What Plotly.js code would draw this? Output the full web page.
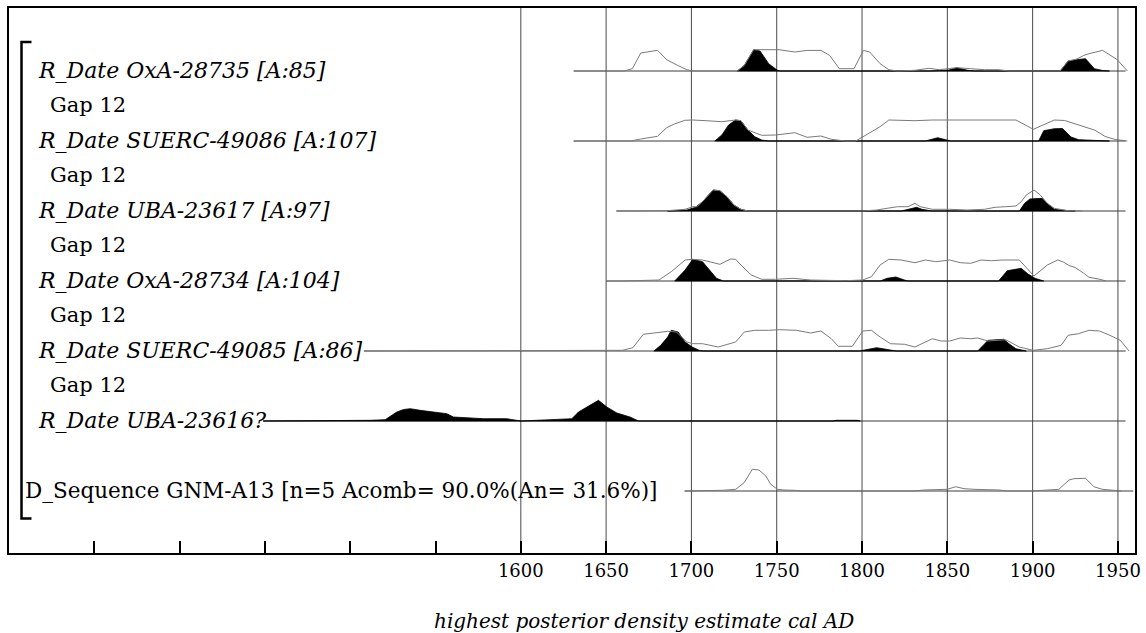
<!DOCTYPE html>
<html>
<head>
<meta charset="utf-8">
<script src="https://cdn.plot.ly/plotly-3.0.1.min.js"></script>
<style>html,body{margin:0;padding:0;background:#fff;}#chart{width:1146px;height:633px;}</style>
</head>
<body>
<div id="chart"></div>
<script>
// ---- labels (top to bottom, one per text line) ----
const rowLabels = [
  "R_Date OxA-28735 [A:85]", "Gap 12",
  "R_Date SUERC-49086 [A:107]", "Gap 12",
  "R_Date UBA-23617 [A:97]", "Gap 12",
  "R_Date OxA-28734 [A:104]", "Gap 12",
  "R_Date SUERC-49085 [A:86]", "Gap 12",
  "R_Date UBA-23616?", "",
  "D_Sequence GNM-A13 [n=5 Acomb= 90.0%(An= 31.6%)]"
];
const xTitle = "highest posterior density estimate cal AD";
const tickYears = [1350,1400,1450,1500,1550,1600,1650,1700,1750,1800,1850,1900,1950];
const tickLabels = ["","","","","","1600","1650","1700","1750","1800","1850","1900","1950"];
const gridYears = [1600,1650,1700,1750,1800,1850,1900,1950];

// baseline extents (cal AD) of each distribution row
const rowStart = [1631, 1631, 1656, 1650, 1508, 1449, 1696];
const rowEnd   = [1954.5, 1954.5, 1954.5, 1954.5, 1954.5, 1954.5, 1959];

// ---- Row 1: OxA-28735 ----
const r1LikeYr = [1631,1653.7,1660.6,1665.4,1670.3,1680.1,1685.5,1691.8,1697.3,1700.8,1726.9,1731,1736.5,1751.4,1760.6,1767.8,1775.9,1781,1786.7,1795.3,1800.8,1804.5,1810.6,1815.7,1820.8,1831,1839.2,1845.3,1855.5,1863.7,1871.8,1880,1886,1916,1920.8,1926,1930,1933,1941,1949.5,1955.5];
const r1LikeD  = [0,0,0,2.3,18,20.7,11.3,5.7,1.3,0,0,5.6,21.3,21.3,19,20.6,20.6,15.6,2.3,2.3,20.6,19,7.3,1.3,0,0.7,2.7,1.3,3.3,2.3,1.3,1.3,0,0,10,12,15.6,17.3,20.6,11.5,0];
const r1PostYr = [1726.9,1731,1736.5,1740.2,1745.3,1750.4,1752,1840,1851,1855.5,1862,1866,1916.3,1920.8,1926.5,1931,1936.2,1941,1945];
const r1PostD  = [0,5.6,21.3,20,7.3,0.7,0,0,1,3.3,0.7,0,0,10,11.5,12.3,2.3,0.5,0];

// ---- Row 2: SUERC-49086 ----
const r2LikeYr = [1631,1664.5,1670.3,1680.1,1685.5,1690,1696.1,1700.8,1708.6,1717.8,1725.9,1729,1733.1,1741.2,1749.4,1760.6,1767.8,1775.9,1782,1790.2,1796.3,1802.4,1810.6,1815.7,1831,1841.2,1851.4,1861.6,1871.8,1890.2,1900.4,1906.5,1912.7,1918.8,1925,1929.5,1936.5,1942.5,1948.5,1955.5];
const r2LikeD  = [0,0,2,4.7,13.3,17,20.7,21,20.3,19.3,21,20.3,11,5.7,6,8.3,3.7,5,1.7,0,0,6,14.3,21,20.3,21,21,20.3,21,21,11.7,16.7,21,20.5,17,14.2,10.8,4.5,1.5,0];
const r2PostYr = [1713.7,1717.8,1721.8,1725.9,1729,1733.1,1737.1,1741.2,1745.3,1837.1,1844.3,1849.4,1852,1903.5,1906.5,1912.7,1917.5,1922.5,1927,1935,1945];
const r2PostD  = [0,6,16,21,20.3,11,4.3,1,0,0,3.3,1,0,0,10.3,12.3,12.5,4,1.3,0.7,0];

// ---- Row 3: UBA-23617 ----
const r3LikeYr = [1656,1671.8,1686.1,1696.3,1700.8,1703.5,1706.5,1712.7,1716.7,1720.8,1724.9,1729,1733.1,1800,1808.6,1814.7,1820.8,1826.9,1831,1834.1,1841.2,1851.4,1861.6,1871.8,1878,1884.1,1890.2,1893.3,1896.3,1900.8,1904.5,1908.6,1912.7,1920.8,1929];
const r3LikeD  = [0,0,0.3,1.7,4.3,4.3,9.3,21,20.3,14.3,6,1.7,0,0,1,2.7,4.3,4.3,7.7,4.3,1.7,1.7,1,1.7,3.7,4.3,5,9.3,16,21,16,7.7,2.7,0.3,0];
const r3PostYr = [1686,1697.3,1702.4,1706.5,1712.7,1716.7,1720.8,1724.9,1729,1733.1,1822.9,1826.9,1832,1835.1,1841.2,1892.2,1895.3,1898.4,1905.5,1909.6,1912.7,1920.8,1925];
const r3PostD  = [0,1,3.7,9.3,21,20.3,14.3,6,1.7,0,0,1.7,3.7,1.7,0,0,7.7,12,12.7,6,1.7,0.3,0];

// ---- Row 4: OxA-28734 ----
const r4LikeYr = [1650,1659.6,1681,1684.1,1688.2,1696.3,1700.8,1706.5,1716.7,1722.9,1725.9,1729,1735.1,1741.2,1749.4,1759.6,1769.8,1790.2,1800.4,1805.5,1810.6,1815.7,1822.9,1831,1837.1,1843.3,1851.4,1857.6,1863.7,1869.8,1875.9,1882,1892.2,1900.8,1908.6,1914.7,1918,1921.3,1925,1930,1933,1939.5,1943];
const r4LikeD  = [0,0,1,4.3,9.3,21,21.7,21,16.7,22,21.7,16,6,1.7,1.7,2.7,1,0.3,1,4.3,16,21.7,21,18.3,21,19.3,21,18.3,17.7,21,20.3,21,21,5,16,21,19,15.5,13.5,7.7,3.7,1.7,0];
const r4PostYr = [1690.2,1696.3,1700.8,1706.5,1710.6,1714.7,1718.8,1810.6,1814.7,1819.8,1824.9,1827,1880,1885.1,1893.3,1897.3,1901.4,1904.5,1906.5];
const r4PostD  = [0,11,21.7,19.3,11,2.7,0,0,2.7,4,1,0,0,10.3,12.7,7,2.7,1,0];

// ---- Row 5: SUERC-49085 ----
const r5LikeYr = [1508,1647.3,1659.6,1665.7,1671.8,1678,1686.1,1691.2,1697.3,1700.8,1706.5,1715.7,1725.9,1731,1737.1,1745.3,1751.4,1761.6,1769.8,1775.9,1782,1786.1,1794.3,1800.4,1805.5,1810.6,1816.7,1824.9,1831,1841.2,1846.3,1851.4,1857.6,1863.7,1867.8,1873.9,1884.1,1892.2,1900.4,1908.6,1916.7,1920.8,1926.9,1933.1,1939.2,1945.3,1951.4,1956.5];
const r5LikeD  = [0,0,0.7,3.3,16.7,18,19.7,19,9,7.3,7.3,4,9,19,20.7,20.7,21.3,20.7,18,20,12.3,4.7,4.7,20,20.7,14,7.3,6.7,4,12.3,10,10,13,12.3,13,10,11.3,4,0.7,2.3,5.7,15.7,17.3,20.7,20,15.7,10.7,0];
const r5PostYr = [1678,1682,1686.1,1688.2,1692.2,1696.3,1700.4,1704.5,1707,1798.4,1808.6,1816.7,1820,1867.8,1871.8,1873.9,1883.1,1886.1,1890.2,1896.3];
const r5PostD  = [0,5.7,14,20.7,19,9,4,0.7,0,0,3.3,0.7,0,0,7.3,10.7,11.7,7.3,2.3,0];

// ---- Row 6: UBA-23616? (posterior only) ----
const r6PostYr = [1449,1496,1504,1511.7,1520.5,1527.3,1531.3,1535.2,1541,1550.8,1556.6,1560.5,1566.4,1578,1591.8,1600,1617.2,1629.9,1633.8,1638.7,1645.5,1650.4,1656.3,1664,1669,1783,1785,1797,1799];
const r6PostD  = [0,0.3,0.5,0.7,1.3,9,11.5,12.3,10.7,9,7.3,4,3.3,2.3,2.3,0,1.3,2.3,9,14,20.7,14,8,4,0,0,0.7,0.7,0];

// ---- Row 7: D_Sequence GNM-A13 (outline only) ----
const r7LikeYr = [1696,1718.2,1726,1730.9,1735.7,1739.6,1743.6,1746.5,1750.4,1754.3,1760.2,1765,1830,1836.3,1850,1854.9,1859.8,1865.6,1880.3,1885,1900,1907.6,1915.4,1921.3,1924.2,1931,1935.9,1940.8,1947.7,1952];
const r7LikeD  = [0,0.7,1.7,8.3,21.7,21,15,6.7,1.7,1,0.7,0,0,1,1.7,4.3,2.3,1.7,1,0,0,1,1.7,11,12.3,12.7,4.3,1.7,0.7,0];

// line index (text line) of each distribution row
const rowLine = [0, 2, 4, 6, 8, 10, 12];
const likes = [[r1LikeYr,r1LikeD],[r2LikeYr,r2LikeD],[r3LikeYr,r3LikeD],[r4LikeYr,r4LikeD],[r5LikeYr,r5LikeD],null,[r7LikeYr,r7LikeD]];
const posts = [[r1PostYr,r1PostD],[r2PostYr,r2PostD],[r3PostYr,r3PostD],[r4PostYr,r4PostD],[r5PostYr,r5PostD],[r6PostYr,r6PostD],null];

// ---- geometry helpers ----
const W = 1146, H = 633;
const M = {l: 9, r: 11, t: 8, b: 80};
const X0 = 1300, X1 = 1960;
const LINE_PX = 35;
const yTop = -1.8;
const yBot = yTop + (H - M.t - M.b) / LINE_PX;
const plotW = W - M.l - M.r, plotH = H - M.t - M.b;
const px2yr = px => X0 + (px - M.l) * (X1 - X0) / plotW;
const py2ln = py => yTop + (py - M.t) / LINE_PX;
const dens2y = (base, d) => base - d / LINE_PX;

const traces = [];
// baselines
rowLine.forEach((ln, i) => {
  traces.push({x: [rowStart[i], rowEnd[i]], y: [ln, ln], mode: 'lines',
    line: {color: '#3a3a3a', width: 1}, hoverinfo: 'skip', showlegend: false});
});
// posteriors (filled black)
posts.forEach((p, i) => {
  if (!p) return;
  const base = rowLine[i];
  const xs = p[0].concat([p[0][p[0].length-1], p[0][0]]);
  const ys = p[1].map(d => dens2y(base, d)).concat([base, base]);
  traces.push({x: xs, y: ys, mode: 'lines', fill: 'toself', fillcolor: '#000',
    line: {color: '#000', width: 0.8}, hoverinfo: 'skip', showlegend: false});
});
// likelihood outlines
likes.forEach((l, i) => {
  if (!l) return;
  const base = rowLine[i];
  traces.push({x: l[0], y: l[1].map(d => dens2y(base, d)), mode: 'lines',
    line: {color: '#7a7a7a', width: 1}, hoverinfo: 'skip', showlegend: false});
});

const shapes = [];
gridYears.forEach(yr => shapes.push({type: 'line', xref: 'x', yref: 'paper', x0: yr, x1: yr, y0: 0, y1: 1,
  line: {color: '#4a4a4a', width: 1}, layer: 'below'}));
// sequence bracket
const bx = px2yr(21.5), bx2 = px2yr(31.5), bt = py2ln(42), bb = py2ln(518.5);
shapes.push({type: 'path', xref: 'x', yref: 'y',
  path: `M ${bx2} ${bt} L ${bx} ${bt} L ${bx} ${bb} L ${bx2} ${bb}`,
  line: {color: '#000', width: 2.5}});

const annotations = [];
rowLabels.forEach((t, ln) => {
  if (!t) return;
  const isGap = t.startsWith('Gap');
  const isSeq = t.startsWith('D_');
  const px = isSeq ? 23 : (isGap ? 48 : 36);
  const size = isGap ? 21 : (isSeq ? 21.5 : 22);
  annotations.push({text: t, xref: 'x', yref: 'y', x: px2yr(px), y: ln - 0.02,
    xanchor: 'left', yanchor: 'middle', showarrow: false,
    font: {family: 'DejaVu Serif', size: size, color: '#000', style: (isGap || isSeq) ? 'normal' : 'italic'}});
});
annotations.push({text: xTitle, xref: 'paper', yref: 'paper',
  x: (644 - M.l) / plotW, y: (H - M.b - 621) / plotH, xanchor: 'center', yanchor: 'middle', showarrow: false,
  font: {family: 'DejaVu Serif', size: 20, color: '#000', style: 'italic'}});

const layout = {
  width: W, height: H, margin: M, paper_bgcolor: '#fff', plot_bgcolor: '#fff',
  showlegend: false,
  xaxis: {range: [X0, X1], tickvals: tickYears, ticktext: tickLabels, ticks: 'inside', ticklen: 12,
    tickwidth: 2, tickcolor: '#000', showgrid: false, zeroline: false, showline: true, mirror: true,
    linecolor: '#000', linewidth: 2, ticklabelstandoff: 0,
    tickfont: {family: 'DejaVu Serif', size: 18, color: '#000'}, fixedrange: true},
  yaxis: {range: [yBot, yTop], showticklabels: false, ticks: '', showgrid: false, zeroline: false,
    showline: true, mirror: true, linecolor: '#000', linewidth: 2, fixedrange: true},
  shapes: shapes, annotations: annotations
};
Plotly.newPlot('chart', traces, layout, {displayModeBar: false, staticPlot: true});
</script>
</body>
</html>
